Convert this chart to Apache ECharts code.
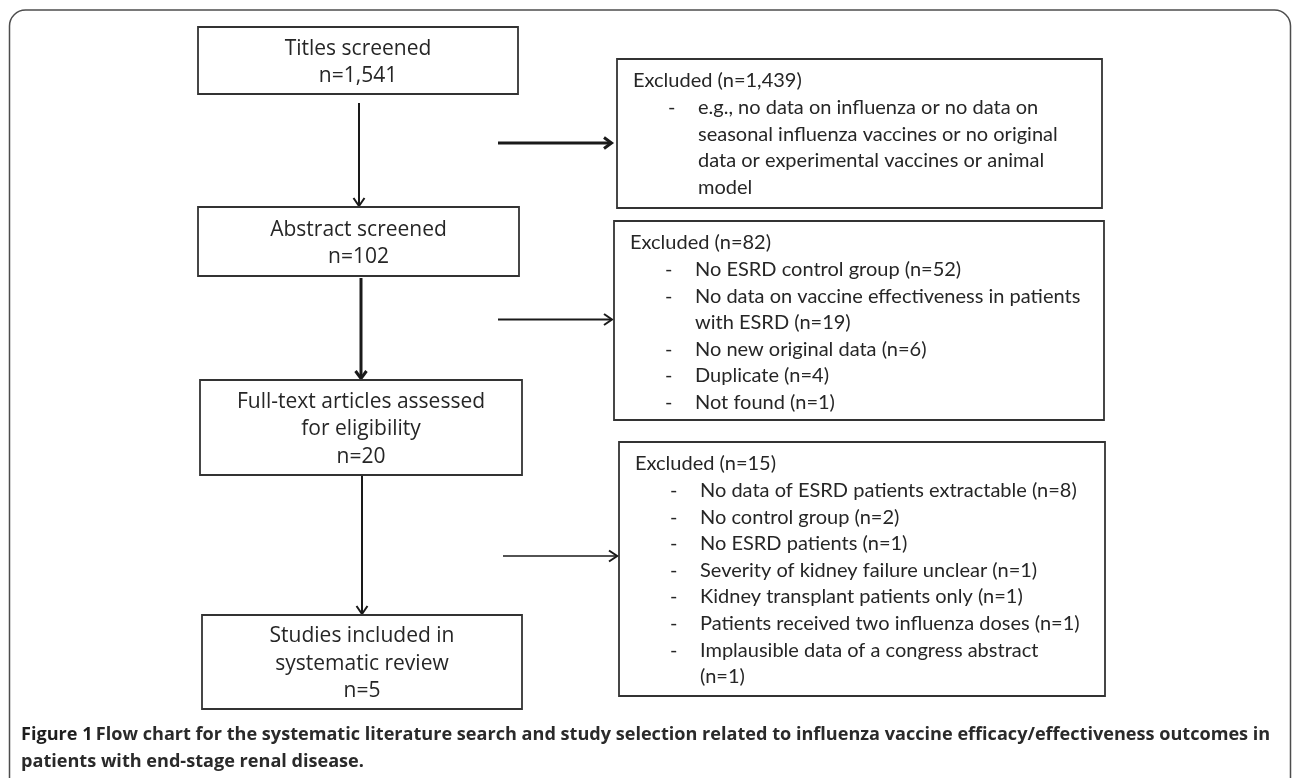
<!DOCTYPE html>
<html>
<head>
<meta charset="utf-8">
<script src="https://cdn.jsdelivr.net/npm/echarts@6/dist/echarts.min.js"></script>
<style>
  html, body { margin: 0; padding: 0; background: #fff; }
  #main { width: 1292px; height: 778px; }
</style>
</head>
<body>
<div id="main"></div>
<script>
// --- data ---
var stageNames = ['Titles screened', 'Abstract screened', 'Full-text articles assessed\nfor eligibility', 'Studies included in\nsystematic review'];
var stageCounts = [1541, 102, 20, 5];

var excludedTotals = [1439, 82, 15];

var reasons1 = ['e.g., no data on influenza or no data on\nseasonal influenza vaccines or no original\ndata or experimental vaccines or animal\nmodel'];
var reasons1Counts = [null];

var reasons2 = ['No ESRD control group', 'No data on vaccine effectiveness in patients\nwith ESRD', 'No new original data', 'Duplicate', 'Not found'];
var reasons2Counts = [52, 19, 6, 4, 1];

var reasons3 = ['No data of ESRD patients extractable', 'No control group', 'No ESRD patients', 'Severity of kidney failure unclear', 'Kidney transplant patients only', 'Patients received two influenza doses', 'Implausible data of a congress abstract\n'];
var reasons3Counts = [8, 2, 1, 1, 1, 1, 1];

var captionBold = 'Figure 1';
var captionText = ['Flow chart for the systematic literature search and study selection related to influenza vaccine efficacy/effectiveness outcomes in', 'patients with end-stage renal disease.'];

// --- layout (pixel space of the hidden axes) ---
var stageBoxes = [[198, 27, 518, 94], [198, 207, 519, 276], [200, 380, 522, 475], [202, 615, 522, 709]];
var exclBoxes = [[617, 59, 1102, 208], [614, 221, 1104, 420], [619, 442, 1105, 696]];
var downArrows = [[359, 103, 359, 207, 2], [361, 278, 361, 380, 3], [362, 476, 362, 615, 2]];
var sideArrows = [[498, 143, 613, 143, 3], [498, 319.5, 613, 319.5, 2], [503, 556, 618, 556, 1.6]];

var fmt = function (v) { return 'n=' + v.toLocaleString('en-US'); };
var reasonSets = [
  { labels: reasons1, counts: reasons1Counts },
  { labels: reasons2, counts: reasons2Counts },
  { labels: reasons3, counts: reasons3Counts }
];

var ink = '#262626';
var boxLine = '#333';

var chartDom = document.getElementById('main');
var myChart = echarts.init(chartDom, null, { renderer: 'canvas' });

function renderStage(params, api) {
  var p0 = api.coord([api.value(0), api.value(1)]);
  var p1 = api.coord([api.value(2), api.value(3)]);
  var i = params.dataIndex;
  return {
    type: 'group',
    children: [
      { type: 'rect', shape: { x: p0[0], y: p0[1], width: p1[0] - p0[0], height: p1[1] - p0[1] },
        style: { fill: '#fff', stroke: boxLine, lineWidth: 1.8 } },
      { type: 'text', x: (p0[0] + p1[0]) / 2, y: (p0[1] + p1[1]) / 2 + 2,
        style: { text: stageNames[i] + '\n' + fmt(stageCounts[i]), fontFamily: 'Open Sans', fontSize: 21,
          lineHeight: 27.5, fill: ink, align: 'center', verticalAlign: 'middle' } }
    ]
  };
}

function renderExcl(params, api) {
  var p0 = api.coord([api.value(0), api.value(1)]);
  var p1 = api.coord([api.value(2), api.value(3)]);
  var i = params.dataIndex;
  var font = { fontFamily: 'Lato', fontSize: 20, fill: ink, verticalAlign: 'middle' };
  var kids = [
    { type: 'rect', shape: { x: p0[0], y: p0[1], width: p1[0] - p0[0], height: p1[1] - p0[1] },
      style: { fill: '#fff', stroke: boxLine, lineWidth: 1.8 } },
    { type: 'text', x: p0[0] + 16, y: p0[1] + 22,
      style: Object.assign({ text: 'Excluded (' + fmt(excludedTotals[i]) + ')' }, font) }
  ];
  var set = reasonSets[i];
  var y = p0[1] + 22 + 26.6;
  set.labels.forEach(function (lab, k) {
    var c = set.counts[k];
    var full = c == null ? lab : lab + (lab.slice(-1) === '\n' ? '' : ' ') + '(' + fmt(c) + ')';
    var lines = full.split('\n');
    kids.push({ type: 'text', x: p0[0] + 51, y: y, style: Object.assign({ text: '-' }, font) });
    lines.forEach(function (ln) {
      kids.push({ type: 'text', x: p0[0] + 81, y: y, style: Object.assign({ text: ln }, font) });
      y += 26.6;
    });
  });
  return { type: 'group', children: kids };
}

function renderArrow(params, api) {
  var a = api.coord([api.value(0), api.value(1)]);
  var b = api.coord([api.value(2), api.value(3)]);
  var lw = api.value(4);
  var dx = b[0] - a[0], dy = b[1] - a[1];
  var len = Math.sqrt(dx * dx + dy * dy);
  var ux = dx / len, uy = dy / len;
  var hl = 9, hw = 5.5;
  var back = [b[0] - ux * hl, b[1] - uy * hl];
  return {
    type: 'group',
    children: [
      { type: 'line', shape: { x1: a[0], y1: a[1], x2: b[0] - ux * lw, y2: b[1] - uy * lw },
        style: { stroke: '#1a1a1a', lineWidth: lw } },
      { type: 'polyline', shape: { points: [[back[0] - uy * hw, back[1] + ux * hw], [b[0] - ux * lw * 0.5, b[1] - uy * lw * 0.5], [back[0] + uy * hw, back[1] - ux * hw]] },
        style: { stroke: '#1a1a1a', lineWidth: Math.max(lw, 2), fill: null, lineJoin: 'miter' } }
    ]
  };
}

var option = {
  animation: false,
  grid: { left: 0, right: 0, top: 0, bottom: 0 },
  xAxis: { type: 'value', min: 0, max: 1292, show: false },
  yAxis: { type: 'value', min: 0, max: 778, inverse: true, show: false },
  graphic: [
    { type: 'rect', shape: { x: 9.5, y: 10, width: 1281, height: 820, r: 16 },
      style: { fill: null, stroke: '#4d4d4d', lineWidth: 1.5 }, silent: true },
    { type: 'text', left: 21, top: 726,
      style: { text: '{b|' + captionBold + '} {t|' + captionText[0] + '}',
        rich: { b: { fontFamily: 'Open Sans', fontWeight: 'bold', fontSize: 18.1, fill: '#1e1e1e' },
                t: { fontFamily: 'Open Sans', fontWeight: 'bold', fontSize: 18.1, fill: '#2a2a2a' } } } },
    { type: 'text', left: 21, top: 753,
      style: { text: captionText[1], fontFamily: 'Open Sans', fontWeight: 'bold', fontSize: 18.1, fill: '#2a2a2a' } }
  ],
  series: [
    { type: 'custom', renderItem: renderArrow, data: downArrows.concat(sideArrows), silent: true, z: 1 },
    { type: 'custom', renderItem: renderStage, data: stageBoxes, silent: true, z: 2 },
    { type: 'custom', renderItem: renderExcl, data: exclBoxes, silent: true, z: 2 }
  ]
};

myChart.setOption(option);
</script>
</body>
</html>
